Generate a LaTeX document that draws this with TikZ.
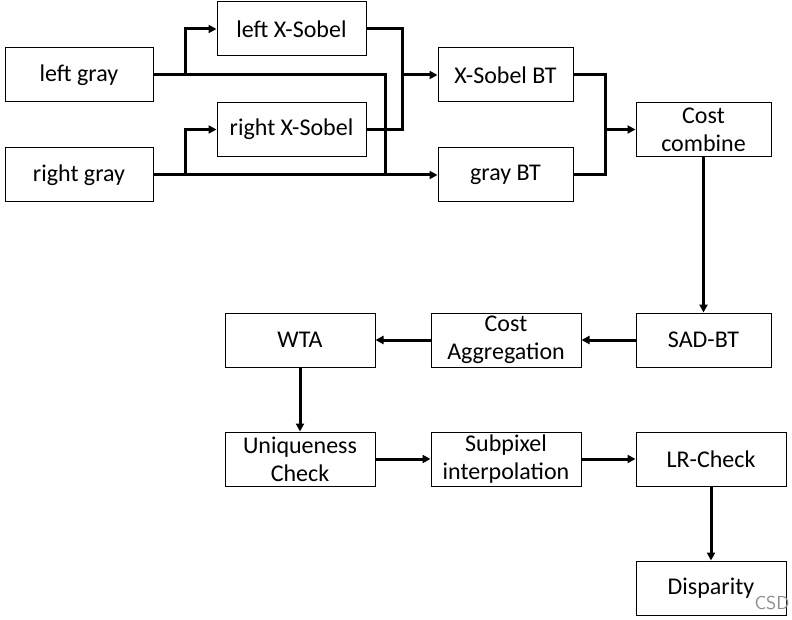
\documentclass[tikz,border=0pt]{standalone}
\usepackage{fontspec}
\setmainfont{Carlito}
\usetikzlibrary{arrows.meta}
\tikzset{every picture/.style={line width=0.75pt}}
\tikzset{
  box/.style={draw, line width=0.75pt, inner sep=0pt, align=center, minimum height=40.5pt, font=\fontsize{18}{21}\selectfont},
  wire/.style={line width=2.25pt, line join=miter},
  tip/.style={-{Triangle[length=6pt,width=6pt]}}
}

\begin{document}
\begin{tikzpicture}[x=0.75pt,y=0.75pt,yscale=-1,xscale=1]
\useasboundingbox (0,0) rectangle (792,620);

% Input boxes
\node[box, minimum width=111pt] (lgray) at (79,75) {left gray};
\node[box, minimum width=111pt] (rgray) at (79,175) {right gray};
% Sobel boxes
\node[box, minimum width=111.75pt] (lsobel) at (291.5,29) {left X-Sobel};
\node[box, minimum width=111.75pt] (rsobel) at (291.5,129.5) {right X-Sobel};
% BT boxes
\node[box, minimum width=101.25pt] (sobelBT) at (505.5,75) {X-Sobel BT};
\node[box, minimum width=101.25pt] (grayBT) at (505.5,175) {gray BT};
\node[box, minimum width=101.25pt] (combine) at (703.5,129.5) {Cost\\combine};
% second row
\node[box, minimum width=101.25pt] (sadbt) at (703.5,340) {SAD-BT};
\node[box, minimum width=112.5pt] (aggr) at (506,340) {Cost\\Aggregation};
\node[box, minimum width=112.5pt] (wta) at (300,340) {WTA};
% third row
\node[box, minimum width=112.5pt] (unique) at (300,459) {Uniqueness\\Check};
\node[box, minimum width=112.5pt] (subpix) at (506,459) {Subpixel\\interpolation};
\node[box, minimum width=112.5pt] (lrcheck) at (711,459) {LR-Check};
\node[box, minimum width=112.5pt] (disp) at (711,588) {Disparity};

% joints
\coordinate (splitL) at (185,75);
\coordinate (splitR) at (185,175);
\coordinate (cross) at (385,175);
\coordinate (mergeS) at (402,75);
\coordinate (mergeC) at (605,129.5);

% top connectors
\draw[wire] (lgray.east) -| (cross);
\draw[wire,tip] (rgray.east) -- (grayBT.west);
\draw[wire,tip] (splitL) |- (lsobel.west);
\draw[wire,tip] (splitR) |- (rsobel.west);
\draw[wire] (lsobel.east) -| (mergeS |- rsobel.east) -- (rsobel.east);
\draw[wire,tip] (mergeS) -- (sobelBT.west);
\draw[wire] (sobelBT.east) -| (mergeC |- grayBT.east) -- (grayBT.east);
\draw[wire,tip] (mergeC) -- (combine.west);

% pipeline
\draw[wire,tip] (combine.south) -- (sadbt.north);
\draw[wire,tip] (sadbt.west) -- (aggr.east);
\draw[wire,tip] (aggr.west) -- (wta.east);
\draw[wire,tip] (wta.south) -- (unique.north);
\draw[wire,tip] (unique.east) -- (subpix.west);
\draw[wire,tip] (subpix.east) -- (lrcheck.west);
\draw[wire,tip] (lrcheck.south) -- (disp.north);

% watermark
\node[anchor=east, inner sep=0pt, text=black!45, font=\fontsize{14}{17}\selectfont\sffamily] (mark) at (790,603) {CSD};

\end{tikzpicture}
\end{document}
